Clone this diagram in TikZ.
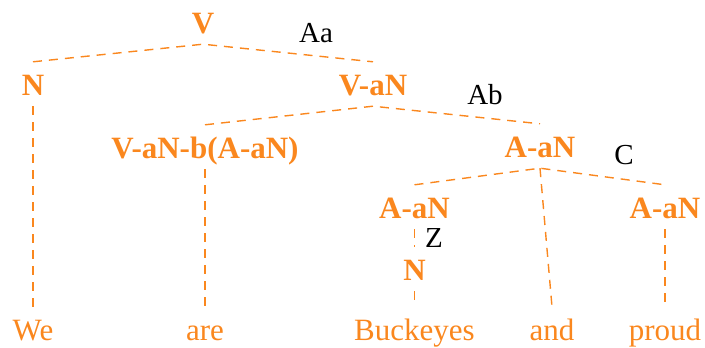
\documentclass[tikz,border=0pt]{standalone}
\usepackage{fontspec}
\setmainfont{Liberation Serif}
\definecolor{treeorange}{RGB}{250,135,30}
\begin{document}
\begin{tikzpicture}[x=1pt,y=-1pt,
  cat/.style={text=treeorange,font=\fontsize{31}{36}\selectfont\bfseries,anchor=base,inner xsep=0pt,inner ysep=11pt,text height=22pt,text depth=0pt},
  word/.style={text=treeorange,font=\fontsize{31}{36}\selectfont,anchor=base,inner xsep=0pt,inner ysep=11pt,text height=22pt,text depth=0pt},
  lab/.style={text=black,font=\fontsize{29}{34}\selectfont,inner sep=0pt},
  branch/.style={draw=treeorange,line width=1.4pt,dash pattern=on 9pt off 7pt}]
\useasboundingbox (0,0) rectangle (705,348);
% categories
\node[cat] (V) at (203,33) {V};
\node[cat] (N1) at (33,95) {N};
\node[cat] (VaN) at (373,95) {V-aN};
\node[cat] (VaNb) at (205,158) {V-aN-b(A-aN)};
\node[cat] (AaN) at (540,157) {A-aN};
\node[cat] (AaNl) at (414.5,218) {A-aN};
\node[cat] (AaNr) at (665,218) {A-aN};
\node[cat] (N2) at (414.5,280) {N};
% words
\node[word] (We) at (33,340) {We};
\node[word] (are) at (205,340) {are};
\node[word] (Buck) at (414.5,340) {Buckeyes};
\node[word] (and) at (552,340) {and};
\node[word] (proud) at (665,340) {proud};
% labels
\node[lab] (Aa) at (316,33) {Aa};
\node[lab] (Ab) at (485,95) {Ab};
\node[lab] (C) at (624,155) {C};
\node[lab] (Z) at (434,238) {Z};
% branches
\draw[branch] (N1.north) -- (V.south) -- (VaN.north);
\draw[branch] (VaNb.north) -- (VaN.south) -- (AaN.north);
\draw[branch] (AaNl.north) -- (AaN.south) -- (AaNr.north);
\draw[branch] (AaN.south) -- (and.north);
\draw[branch] (N1.south) -- (We.north);
\draw[branch] (VaNb.south) -- (are.north);
\draw[branch] (AaNl.south) -- (N2.north);
\draw[branch] (N2.south) -- (Buck.north);
\draw[branch] (AaNr.south) -- (proud.north);
\end{tikzpicture}
\end{document}
